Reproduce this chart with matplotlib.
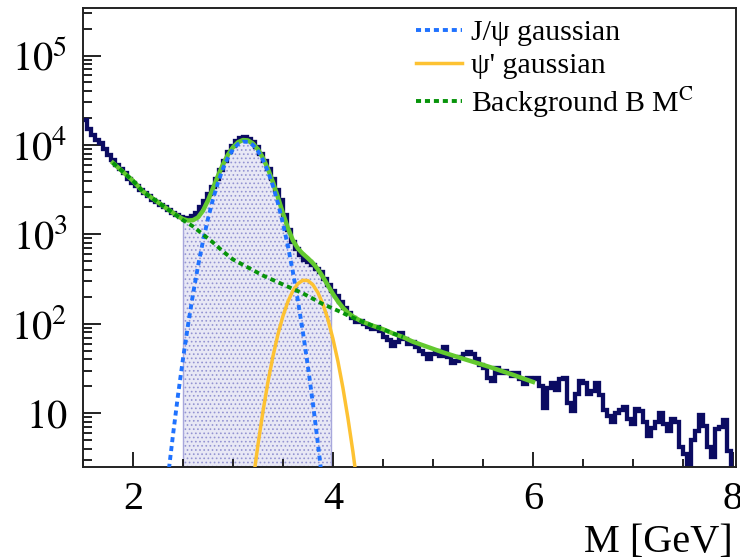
import numpy as np
import matplotlib
matplotlib.use("Agg")
import matplotlib.pyplot as plt
from matplotlib.ticker import FixedLocator, MultipleLocator, LogLocator, NullFormatter, FuncFormatter
from matplotlib.lines import Line2D

plt.rcParams["font.family"] = ["Liberation Serif", "DejaVu Serif"]
plt.rcParams["mathtext.fontset"] = "stix"
plt.rcParams["hatch.linewidth"] = 0.7

# dimuon mass histogram, 0.04 GeV bins starting at 1.50 GeV
bin_start = 1.50
bin_width = 0.04
counts = [
    18800, 15200, 12900, 11500, 10500, 9100, 7800, 6800, 6000, 5400,
    4800, 4200, 3800, 3450, 3150, 2900, 2700, 2450, 2300, 2150,
    2000, 1850, 1750, 1630, 1550, 1500, 1520, 1590, 1740, 2000,
    2350, 2800, 3400, 4150, 5250, 6600, 8300, 9800, 11200, 12000,
    12300, 11800, 10900, 9400, 7900, 6600, 5400, 4200, 3150, 2400,
    1650, 1120, 830, 680, 590, 520, 490, 455, 415, 380,
    315, 270, 235, 205, 175, 150, 132, 115, 105, 107,
    100, 91, 87, 93, 83, 72, 66, 56, 63, 78,
    68, 60, 63, 55, 50, 46, 40, 46, 50, 44,
    55, 42, 36, 38, 42, 46, 48, 46, 40, 35,
    32, 25, 23, 32, 28, 30, 28, 26, 28, 24,
    21, 25, 24, 25, 20, 11.5, 19, 22, 18, 24,
    25, 13, 10.5, 16.5, 23, 22, 16.5, 17.5, 22, 16,
    11, 9.3, 8, 10, 11, 11.7, 8.7, 7.6, 11.2, 10.5,
    8, 5.5, 6.9, 8, 10, 7.6, 6.3, 8.7, 8, 4.2,
    3.5, 2.4, 5, 6.3, 9.5, 7.2, 4.2, 3.2, 6.6, 7,
    8.3, 3.8, 2.0,
]

# integration window shaded under the histogram
fill_lo, fill_hi = 2.5, 4.0

# fit components
jpsi_x = np.round(np.arange(2.35, 3.901, 0.05), 2)
jpsi_y = [1.9, 5.6, 15.6, 39.9, 95, 211, 435, 834, 1483, 2455,
          3776, 5408, 7194, 8892, 10210, 10890, 10815, 9977, 8570, 6823,
          5058, 3491, 2234, 1330, 736, 378, 181, 80.5, 33.3, 12.8,
          4.56, 1.51]

psi2_x = np.round(np.arange(3.20, 4.251, 0.05), 2)
psi2_y = [1.7, 4.4, 10.4, 22.2, 43.1, 76, 122, 177, 234, 281,
          307, 304, 273, 223, 166, 112, 68, 38, 19.2, 8.8,
          3.7, 1.4]

bkg_x = np.concatenate([np.round(np.arange(1.80, 4.301, 0.05), 2), [4.4, 4.5, 4.6, 4.7]])
bkg_y = [6310, 5620, 5010, 4470, 3980, 3470, 3020, 2750, 2510, 2290,
         2090, 1905, 1740, 1585, 1445, 1335, 1230, 1110, 1000, 902,
         813, 724, 646, 582, 525, 490, 457, 427, 398, 372,
         347, 327, 309, 292, 275, 260, 245, 232, 219, 204,
         191, 178, 166, 157, 148, 140, 132, 124, 117, 111,
         105, 95, 87, 78, 71]

total_x = np.concatenate([np.round(np.arange(1.80, 4.301, 0.05), 2),
                          np.round(np.arange(4.4, 6.001, 0.1), 1)])
total_y = [6310, 5620, 5010, 4470, 3980, 3470, 3020, 2750, 2510, 2290,
           2090, 1907, 1746, 1601, 1485, 1430, 1441, 1545, 1834, 2385,
           3268, 4500, 6054, 7776, 9417, 10700, 11347, 11242, 10377, 8946,
           7180, 5407, 3843, 2602, 1727, 1173, 857, 694, 606, 541,
           477, 406, 334, 269, 216, 178, 151, 133, 121, 112,
           105, 95, 87, 78, 71, 63, 57.5, 52.5, 47.9, 44.2,
           40.7, 37.6, 34.7, 32, 29.3, 26.9, 24.5, 22.4]

navy = "#0b0b62"
c_total = "#63c92f"
c_bkg = "#07940a"
c_jpsi = "#1f72ff"
c_psi2 = "#fdc232"
dots = (0, (1.3, 1.0))

counts = np.array(counts, dtype=float)
edges = bin_start + bin_width * np.arange(len(counts) + 1)
centers = 0.5 * (edges[:-1] + edges[1:])

fig = plt.figure(figsize=(7.4, 5.6), dpi=100)
ax = fig.add_axes([0.112, 0.166, 0.8826, 0.8197])
ax.set_yscale("log")

# shaded window
sel = (centers > fill_lo) & (centers < fill_hi)
sub_edges = np.clip(np.append(edges[:-1][sel], edges[1:][sel][-1]), fill_lo, fill_hi)
ax.stairs(counts[sel], sub_edges, baseline=0.1, fill=True, facecolor="#e8e8f5",
          edgecolor="#9494d2", hatch="....", linewidth=0, zorder=1)
ax.stairs(counts[sel], sub_edges, baseline=0.1, color="#a8a8dc", linewidth=1.0, zorder=1.5)

ax.stairs(counts, edges, baseline=None, color=navy, linewidth=3.1, zorder=2)

ax.plot(total_x, total_y, color=c_total, lw=3.2, zorder=3)
ax.plot(jpsi_x, jpsi_y, color=c_jpsi, lw=2.8, ls=dots, zorder=4)
ax.plot(psi2_x, psi2_y, color=c_psi2, lw=2.5, zorder=4)
ax.plot(bkg_x, bkg_y, color=c_bkg, lw=2.8, ls=dots, zorder=5)

ax.set_xlim(1.5, 8.03)
ax.set_ylim(2.5, 3.4e5)

ax.xaxis.set_major_locator(FixedLocator([2, 4, 6, 8]))
ax.xaxis.set_minor_locator(MultipleLocator(0.5))
ax.yaxis.set_major_locator(LogLocator(base=10, numticks=10))
ax.yaxis.set_minor_locator(LogLocator(base=10, subs=range(2, 10), numticks=20))
ax.yaxis.set_minor_formatter(NullFormatter())


def ylab(v, pos):
    e = int(round(np.log10(v)))
    if e == 1:
        return "$10$"
    return "$10^{%d}$" % e


ax.yaxis.set_major_formatter(FuncFormatter(ylab))

ax.tick_params(axis="both", which="both", direction="in", top=False, right=False,
               labelsize=29, width=1.3, color="#111111")
ax.tick_params(axis="y", which="major", length=13, pad=11)
ax.tick_params(axis="y", which="minor", length=6.5)
ax.tick_params(axis="x", which="major", length=11, pad=10)
ax.tick_params(axis="x", which="minor", length=5.5)

for s in ax.spines.values():
    s.set_linewidth(1.4)
    s.set_color("#222222")

ax.text(0.995, -0.185, "M [GeV]", transform=ax.transAxes, ha="right", va="baseline",
        fontsize=29)

handles = [
    Line2D([], [], color=c_jpsi, lw=2.8, ls=dots),
    Line2D([], [], color=c_psi2, lw=2.5),
    Line2D([], [], color=c_bkg, lw=2.8, ls=dots),
]
labels = ["J/\u03c8 gaussian", "\u03c8' gaussian", r"Background B M$^{\mathrm{C}}$"]
ax.legend(handles, labels, loc="upper left", bbox_to_anchor=(0.51, 0.975),
          frameon=False, fontsize=21.5, handlelength=1.55, handletextpad=0.3,
          labelspacing=0.2, borderpad=0, borderaxespad=0)

fig.savefig("out.png", dpi=100)
